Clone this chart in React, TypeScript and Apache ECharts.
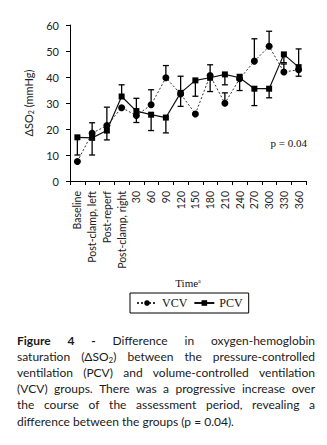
import React, { useEffect, useRef } from 'react';
import * as echarts from 'echarts';

const categories = [
  'Baseline', 'Post-clamp, left', 'Post-reperf', 'Post-clamp, right',
  '30', '60', '90', '120', '150', '180', '210', '240', '270', '300', '330', '360',
];
const vcvMean = [7.5, 18.4, 21.3, 28.2, 25.2, 29.3, 39.7, 33.5, 25.8, 40.6, 29.9, 39.3, 46.1, 51.8, 41.9, 42.8];
const pcvMean = [16.8, 16.6, 19.4, 32.5, 26.9, 25.5, 24.4, 33.9, 38.7, 39.7, 41.0, 39.7, 35.5, 35.5, 48.7, 43.8];
const vcvErrHigh = [null, 22.4, 28.4, null, null, 35.1, 44.4, null, null, 44.7, 33.9, null, 54.7, 57.6, 45.0, null];
const vcvErrLow = [null, null, null, null, 22.5, null, null, 28.7, null, null, null, 34.8, null, null, null, 40.3];
const pcvErrHigh = [null, null, null, 37.0, 31.8, null, null, 40.3, null, null, null, 41.0, null, null, null, 50.8];
const pcvErrLow = [10.0, 10.0, 15.8, null, null, 19.4, 18.5, null, 32.6, 34.4, 37.0, null, 29.0, 32.0, 45.5, null];
const yMin = 0;
const yMax = 60;
const yInterval = 10;
const pText = 'p = 0.04';
const captionLines = [
  'Figure 4 - Difference in oxygen-hemoglobin',
  'saturation (ΔSO2) between the pressure-controlled',
  'ventilation (PCV) and volume-controlled ventilation',
  '(VCV) groups. There was a progressive increase over',
  'the course of the assessment period, revealing a',
  'difference between the groups (p = 0.04).',
];
const boldWordCount = 3;

const CAP_FONT = 'Lato';
const CAP_SIZE = 12;
const SUB_SIZE = 8;

function buildCaption(): any[] {
  const canvas = document.createElement('canvas');
  const ctx = canvas.getContext('2d') as CanvasRenderingContext2D;
  const measure = (t: string, bold: boolean, size: number) => {
    ctx.font = `${bold ? 'bold ' : ''}${size}px ${CAP_FONT}`;
    return ctx.measureText(t).width;
  };
  const left = 17;
  const right = 315;
  const y0 = 340.5;
  const dy = 16.1;
  const els: any[] = [];
  captionLines.forEach((line, li) => {
    const words = line.split(' ');
    const info = words.map((w, wi) => {
      const bold = li === 0 && wi < boldWordCount;
      let width: number;
      let sub = false;
      if (w.includes('SO2')) {
        sub = true;
        const [a, b] = w.split('SO2');
        width = measure(a + 'SO', bold, CAP_SIZE) + measure('2', bold, SUB_SIZE) + measure(b, bold, CAP_SIZE);
      } else {
        width = measure(w, bold, CAP_SIZE);
      }
      return { w, bold, width, sub };
    });
    const sum = info.reduce((s, o) => s + o.width, 0);
    const last = li === captionLines.length - 1;
    const gap = last ? measure(' ', false, CAP_SIZE) : (right - left - sum) / (words.length - 1);
    let x = left;
    const y = y0 + li * dy;
    info.forEach((o) => {
      const style: any = {
        fill: '#1a1a1a',
        fontFamily: CAP_FONT,
        fontSize: CAP_SIZE,
        fontWeight: o.bold ? 'bold' : 'normal',
        textAlign: 'left',
        textVerticalAlign: 'middle',
      };
      if (o.sub) {
        const [a, b] = o.w.split('SO2');
        style.text = `{n|${a}SO}{s|2}{n|${b}}`;
        style.rich = {
          n: { fontFamily: CAP_FONT, fontSize: CAP_SIZE, fill: '#1a1a1a', lineHeight: 14 },
          s: { fontFamily: CAP_FONT, fontSize: SUB_SIZE, fill: '#1a1a1a', lineHeight: 14, padding: [6, 0, 0, 0] },
        };
      } else {
        style.text = o.w;
      }
      els.push({ type: 'text', x, y, style, silent: true });
      x += o.width + gap;
    });
  });
  return els;
}

function errorData(mean: number[], ends: (number | null)[]) {
  const out: number[][] = [];
  ends.forEach((e, i) => {
    if (e !== null) out.push([i, mean[i], e]);
  });
  return out;
}

export default function App() {
  const ref = useRef<HTMLDivElement>(null);
  useEffect(() => {
    if (!ref.current) return;
    const chart = echarts.init(ref.current, null, { renderer: 'svg' });
    const errData = [
      ...errorData(vcvMean, vcvErrHigh),
      ...errorData(vcvMean, vcvErrLow),
      ...errorData(pcvMean, pcvErrHigh),
      ...errorData(pcvMean, pcvErrLow),
    ];
    const option: any = {
      animation: false,
      backgroundColor: '#fff',
      grid: { left: 70, right: 21, top: 25, bottom: 264, containLabel: false },
      legend: {
        left: 130,
        top: 293,
        orient: 'horizontal',
        padding: [4, 6, 4, 6],
        borderColor: '#000',
        borderWidth: 1,
        itemWidth: 20,
        itemHeight: 7,
        itemGap: 6,
        textStyle: { fontFamily: 'Liberation Serif', fontSize: 12, color: '#111' },
        data: ['VCV', 'PCV'],
      },
      xAxis: {
        type: 'category',
        data: categories,
        boundaryGap: true,
        name: 'Time{a|a}',
        nameLocation: 'middle',
        nameGap: 96,
        nameTextStyle: {
          fontFamily: 'Liberation Serif',
          fontSize: 11,
          color: '#111',
          rich: { a: { fontFamily: 'Liberation Serif', fontSize: 6, color: '#111', padding: [0, 0, 4, 0] } },
        },
        axisLine: { lineStyle: { color: '#000', width: 1 } },
        axisTick: { show: true, alignWithLabel: false, length: 4, lineStyle: { color: '#000' } },
        axisLabel: {
          rotate: 90,
          interval: 0,
          margin: 10,
          fontFamily: 'Lato',
          fontSize: 10.5,
          color: '#222',
        },
      },
      yAxis: {
        type: 'value',
        min: yMin,
        max: yMax,
        interval: yInterval,
        name: 'ΔSO{s|2} (mmHg)',
        nameLocation: 'middle',
        nameGap: 36,
        nameRotate: 90,
        nameTextStyle: {
          fontFamily: 'Lato',
          fontSize: 11,
          color: '#222',
          rich: { s: { fontFamily: 'Lato', fontSize: 7, color: '#222', padding: [5, 0, 0, 0] } },
        },
        axisLine: { show: true, lineStyle: { color: '#000', width: 1 } },
        axisTick: { show: true, length: 4, lineStyle: { color: '#000' } },
        splitLine: { show: false },
        axisLabel: { margin: 11, fontFamily: 'Lato', fontSize: 11, color: '#222' },
      },
      series: [
        {
          type: 'custom',
          name: 'err',
          z: 1,
          renderItem: (params: any, api: any) => {
            const i = api.value(0);
            const from = api.coord([i, api.value(1)]);
            const to = api.coord([i, api.value(2)]);
            const hw = 3;
            return {
              type: 'group',
              children: [
                { type: 'line', shape: { x1: from[0], y1: from[1], x2: to[0], y2: to[1] }, style: { stroke: '#000', lineWidth: 1.3 } },
                { type: 'line', shape: { x1: to[0] - hw, y1: to[1], x2: to[0] + hw, y2: to[1] }, style: { stroke: '#000', lineWidth: 1.3 } },
              ],
            };
          },
          data: errData,
          silent: true,
        },
        {
          type: 'line',
          name: 'VCV',
          data: vcvMean,
          z: 3,
          symbol: 'circle',
          symbolSize: 7,
          lineStyle: { color: '#333', width: 1, type: [2, 2] },
          itemStyle: { color: '#000' },
        },
        {
          type: 'line',
          name: 'PCV',
          data: pcvMean,
          z: 4,
          symbol: 'rect',
          symbolSize: 6,
          lineStyle: { color: '#111', width: 1.2, type: 'solid' },
          itemStyle: { color: '#000' },
        },
      ],
      graphic: [
        {
          type: 'text',
          x: 307,
          y: 143,
          style: {
            text: pText,
            fontFamily: 'Liberation Serif',
            fontSize: 11,
            fill: '#111',
            textAlign: 'right',
            textVerticalAlign: 'middle',
          },
        },
        ...buildCaption(),
      ],
    };
    chart.setOption(option);
    return () => chart.dispose();
  }, []);
  return (
    <div
      ref={ref}
      style={{ position: 'absolute', left: 0, top: 0, width: 327, height: 445, background: '#fff' }}
    />
  );
}
